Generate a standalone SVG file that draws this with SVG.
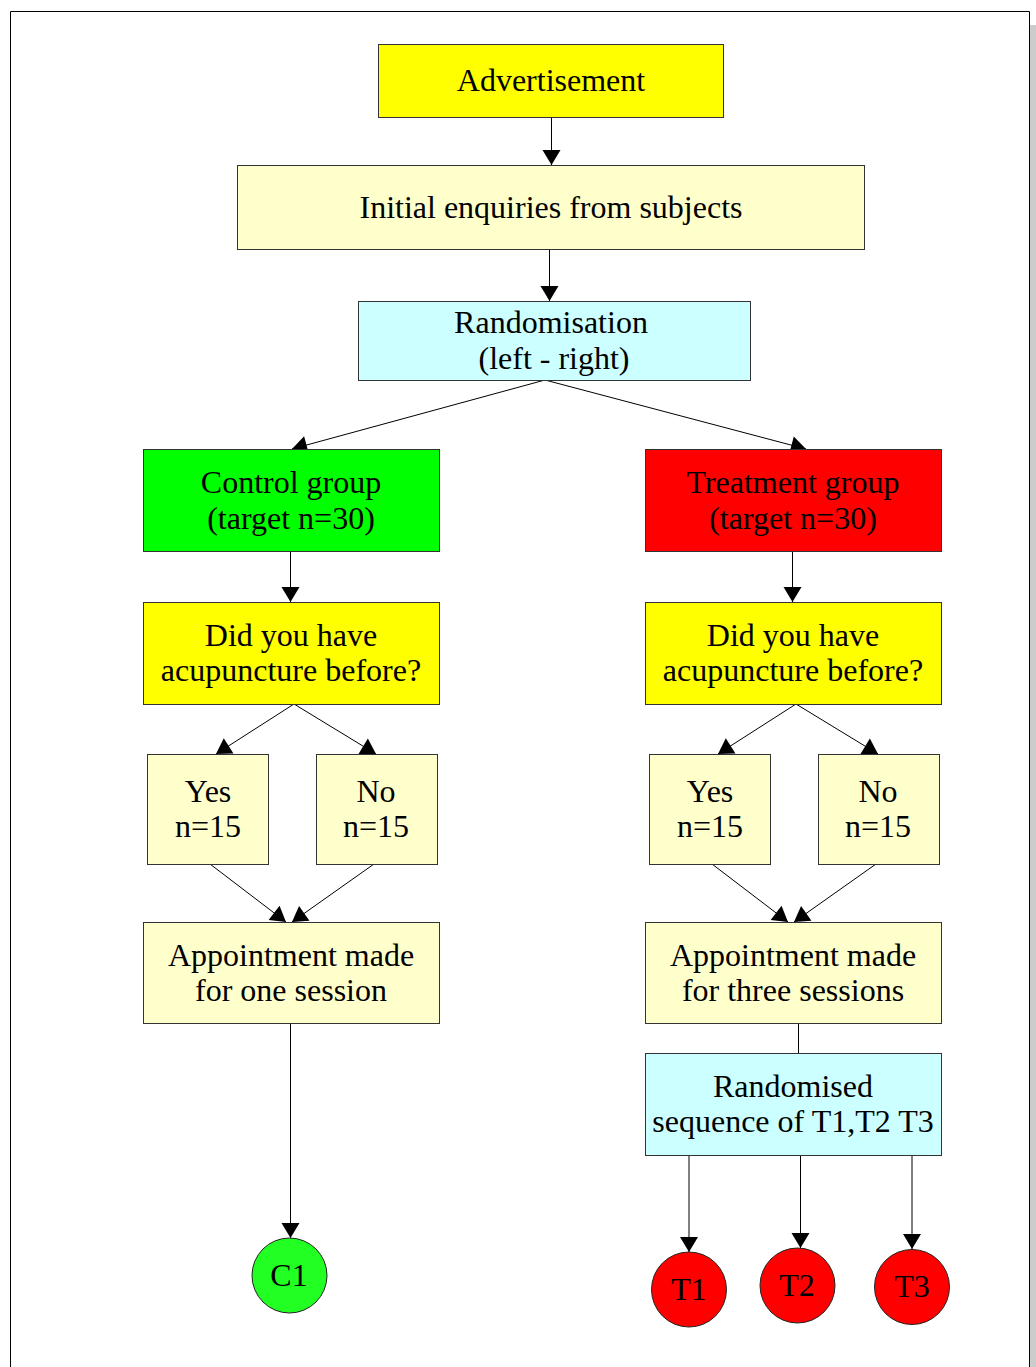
<svg xmlns="http://www.w3.org/2000/svg" width="1036" height="1367" viewBox="0 0 1036 1367">
  <style>
    .box { stroke: #333333; stroke-width: 1; }
    .yellow { fill: #ffff00; }
    .pale { fill: #ffffcc; }
    .cyan { fill: #ccffff; }
    .green { fill: #00ff00; }
    .red { fill: #ff0000; }
    .circ { stroke: #222222; stroke-width: 1; }
    text { font-family: 'Liberation Serif', 'DejaVu Serif', serif; font-size: 32px; fill: #000000; text-anchor: middle; }
    .conn line { stroke: #000000; stroke-width: 1; fill: none; }
  </style>
  <defs>
    <marker id="arrow" markerUnits="userSpaceOnUse" markerWidth="18" markerHeight="20" viewBox="0 0 18 20" refX="16" refY="10" orient="auto">
      <path d="M1,1 L16,10 L1,19 Z" fill="#000000"/>
    </marker>
  </defs>

  <rect width="1036" height="1367" fill="#ffffff"/>
  <!-- page frame and shadow -->
  <rect x="1030" y="25" width="6" height="1342" fill="#cccccc"/>
  <path d="M10.5,1367 V11.5 H1029.5 V1367" fill="none" stroke="#000000" stroke-width="1"/>

  <g id="connectors" class="conn">
    <line x1="551.5" y1="117" x2="551.5" y2="165" marker-end="url(#arrow)"/>
    <line x1="549.5" y1="249" x2="549.5" y2="301" marker-end="url(#arrow)"/>
    <line x1="545" y1="380" x2="292" y2="449" marker-end="url(#arrow)"/>
    <line x1="545" y1="380" x2="806" y2="449" marker-end="url(#arrow)"/>
    <line x1="290.5" y1="551" x2="290.5" y2="602" marker-end="url(#arrow)"/>
    <line x1="792.5" y1="551" x2="792.5" y2="602" marker-end="url(#arrow)"/>
    <line x1="294" y1="704" x2="216" y2="754" marker-end="url(#arrow)"/>
    <line x1="294" y1="704" x2="376" y2="754" marker-end="url(#arrow)"/>
    <line x1="796" y1="704" x2="718" y2="754" marker-end="url(#arrow)"/>
    <line x1="796" y1="704" x2="878" y2="754" marker-end="url(#arrow)"/>
    <line x1="210" y1="864" x2="286" y2="922" marker-end="url(#arrow)"/>
    <line x1="374" y1="864" x2="292" y2="922" marker-end="url(#arrow)"/>
    <line x1="712" y1="864" x2="788" y2="922" marker-end="url(#arrow)"/>
    <line x1="876" y1="864" x2="794" y2="922" marker-end="url(#arrow)"/>
    <line x1="290.5" y1="1023" x2="290.5" y2="1238" marker-end="url(#arrow)"/>
    <line x1="798.5" y1="1023" x2="798.5" y2="1053"/>
    <line x1="689" y1="1155" x2="689" y2="1252" marker-end="url(#arrow)"/>
    <line x1="800.5" y1="1155" x2="800.5" y2="1248" marker-end="url(#arrow)"/>
    <line x1="912" y1="1155" x2="912" y2="1249" marker-end="url(#arrow)"/>
  </g>

  <g id="advertisement">
    <rect class="box yellow" x="378.5" y="44.5" width="345" height="73"/>
    <text x="551" y="91">Advertisement</text>
  </g>
  <g id="enquiries">
    <rect class="box pale" x="237.5" y="165.5" width="627" height="84"/>
    <text x="551" y="218">Initial enquiries from subjects</text>
  </g>
  <g id="randomisation">
    <rect class="box cyan" x="358.5" y="301.5" width="392" height="79"/>
    <text x="551" y="333">Randomisation</text>
    <text x="554" y="369">(left - right)</text>
  </g>

  <g id="control-group">
    <rect class="box green" x="143.5" y="449.5" width="296" height="102"/>
    <text x="291" y="493">Control group</text>
    <text x="291" y="529">(target n=30)</text>
  </g>
  <g id="treatment-group">
    <rect class="box red" x="645.5" y="449.5" width="296" height="102"/>
    <text x="793" y="493">Treatment group</text>
    <text x="793" y="529">(target n=30)</text>
  </g>

  <g id="control-question">
    <rect class="box yellow" x="143.5" y="602.5" width="296" height="102"/>
    <text x="291" y="646">Did you have</text>
    <text x="291" y="681">acupuncture before?</text>
  </g>
  <g id="treatment-question">
    <rect class="box yellow" x="645.5" y="602.5" width="296" height="102"/>
    <text x="793" y="646">Did you have</text>
    <text x="793" y="681">acupuncture before?</text>
  </g>

  <g id="control-yes">
    <rect class="box pale" x="147.5" y="754.5" width="121" height="110"/>
    <text x="208" y="802">Yes</text>
    <text x="208" y="837">n=15</text>
  </g>
  <g id="control-no">
    <rect class="box pale" x="316.5" y="754.5" width="121" height="110"/>
    <text x="376" y="802">No</text>
    <text x="376" y="837">n=15</text>
  </g>
  <g id="treatment-yes">
    <rect class="box pale" x="649.5" y="754.5" width="121" height="110"/>
    <text x="710" y="802">Yes</text>
    <text x="710" y="837">n=15</text>
  </g>
  <g id="treatment-no">
    <rect class="box pale" x="818.5" y="754.5" width="121" height="110"/>
    <text x="878" y="802">No</text>
    <text x="878" y="837">n=15</text>
  </g>

  <g id="control-appointment">
    <rect class="box pale" x="143.5" y="922.5" width="296" height="101"/>
    <text x="291" y="966">Appointment made</text>
    <text x="291" y="1001">for one session</text>
  </g>
  <g id="treatment-appointment">
    <rect class="box pale" x="645.5" y="922.5" width="296" height="101"/>
    <text x="793" y="966">Appointment made</text>
    <text x="793" y="1001">for three sessions</text>
  </g>

  <g id="sequence">
    <rect class="box cyan" x="645.5" y="1053.5" width="296" height="102"/>
    <text x="793" y="1097">Randomised</text>
    <text x="793" y="1132">sequence of T1,T2 T3</text>
  </g>

  <g id="c1">
    <circle class="circ" cx="289.5" cy="1275.5" r="37.5" fill="#22ff22"/>
    <text x="289" y="1286">C1</text>
  </g>
  <g id="t1">
    <circle class="circ" cx="689" cy="1289.5" r="37.5" fill="#ff0000"/>
    <text x="689" y="1300">T1</text>
  </g>
  <g id="t2">
    <circle class="circ" cx="797.5" cy="1285.5" r="37.5" fill="#ff0000"/>
    <text x="797" y="1296">T2</text>
  </g>
  <g id="t3">
    <circle class="circ" cx="912" cy="1287" r="37.5" fill="#ff0000"/>
    <text x="912" y="1297">T3</text>
  </g>
</svg>
